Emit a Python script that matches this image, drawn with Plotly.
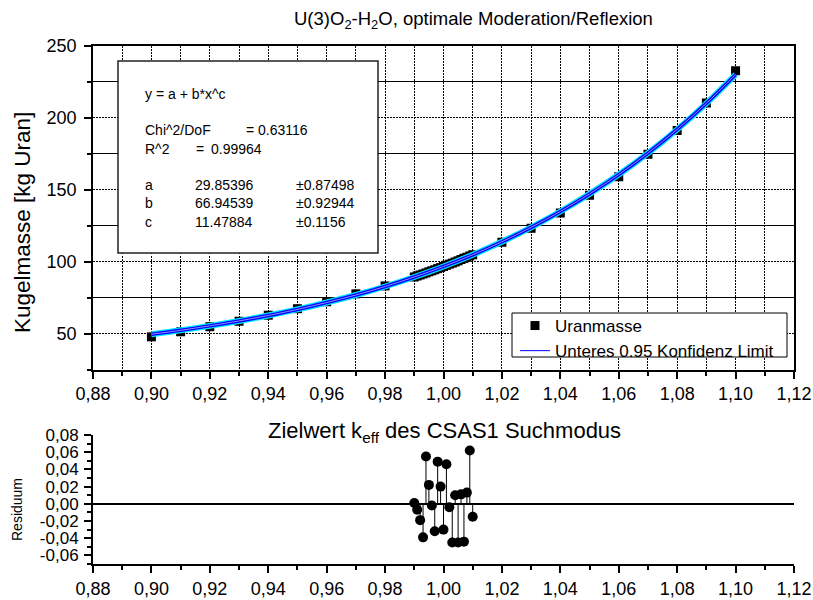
import plotly.graph_objects as go

# Target k_eff values and the corresponding sphere masses (kg U)
K_EFF = [0.90, 0.91, 0.92, 0.93, 0.94, 0.95, 0.96, 0.97, 0.98,
         0.990, 0.991, 0.992, 0.993, 0.994, 0.995, 0.996, 0.997, 0.998, 0.999,
         1.000, 1.001, 1.002, 1.003, 1.004, 1.005, 1.006, 1.007, 1.008, 1.009, 1.010,
         1.02, 1.03, 1.04, 1.05, 1.06, 1.07, 1.08, 1.09, 1.10]
MASS = [48.0, 51.5, 55.0, 58.8, 63.0, 67.5, 72.3, 77.8, 83.3,
        89.5, 90.2, 90.9, 91.6, 92.3, 93.1, 93.8, 94.5, 95.3, 96.0,
        96.8, 97.6, 98.4, 99.1, 99.9, 100.7, 101.6, 102.4, 103.2, 104.1, 104.9,
        113.6, 123.2, 133.8, 146.2, 159.0, 174.6, 191.0, 210.2, 232.5]

# Fitted curve y = a + b*x^c, sampled at the coarse k_eff grid
FIT_K = [0.90, 0.91, 0.92, 0.93, 0.94, 0.95, 0.96, 0.97, 0.98, 0.99, 1.00,
         1.01, 1.02, 1.03, 1.04, 1.05, 1.06, 1.07, 1.08, 1.09, 1.10]
FIT_MASS = [49.8, 52.5, 55.6, 59.0, 62.8, 67.0, 71.8, 77.0, 82.9, 89.5, 96.8,
            104.9, 113.9, 123.9, 134.9, 147.1, 160.5, 175.4, 191.8, 209.9, 229.8]

# Residuals of the dense search-mode block around k_eff = 1
RES_K = [0.990, 0.991, 0.992, 0.993, 0.994, 0.995, 0.996, 0.997, 0.998, 0.999,
         1.000, 1.001, 1.002, 1.003, 1.004, 1.005, 1.006, 1.007, 1.008, 1.009, 1.010]
RESIDUAL = [0.001, -0.007, -0.019, -0.039, 0.055, 0.022, -0.002, -0.032, 0.049, 0.020,
            -0.030, 0.046, -0.004, -0.045, 0.010, -0.045, 0.011, -0.044, 0.013, 0.062, -0.015]

X_TICKS = [0.88, 0.90, 0.92, 0.94, 0.96, 0.98, 1.00, 1.02, 1.04, 1.06, 1.08, 1.10, 1.12]
RES_TICKS = [-0.06, -0.04, -0.02, 0.00, 0.02, 0.04, 0.06, 0.08]

FIT_PARAMS = [("a", "29.85396", "\u00b10.87498"),
              ("b", "66.94539", "\u00b10.92944"),
              ("c", "11.47884", "\u00b10.1156")]

FONT = "Liberation Sans, Arial, sans-serif"
W, H = 813, 600


def px(x):
    return x / W


def py(y):
    return 1 - y / H


def fmt(v):
    return f"{v:.2f}".replace(".", ",")


fig = go.Figure()

# data points (drawn first so the fit band sits on top)
fig.add_trace(go.Scatter(
    x=K_EFF, y=MASS, mode="markers", name="Uranmasse",
    marker=dict(symbol="square", size=9, color="black"),
    xaxis="x", yaxis="y", legendrank=1))

# fit band: cyan outer, blue body, light centre line
fig.add_trace(go.Scatter(x=FIT_K, y=FIT_MASS, mode="lines", line=dict(color="#00e5ff", width=6, shape="spline"),
                         showlegend=False, hoverinfo="skip"))
fig.add_trace(go.Scatter(x=FIT_K, y=FIT_MASS, mode="lines", line=dict(color="#0000ff", width=3.5, shape="spline"),
                         showlegend=False, hoverinfo="skip"))
fig.add_trace(go.Scatter(x=FIT_K, y=FIT_MASS, mode="lines", line=dict(color="#8f8fff", width=1, shape="spline"),
                         showlegend=False, hoverinfo="skip"))
# legend entry for the confidence limit line
fig.add_trace(go.Scatter(x=[None], y=[None], mode="lines", name="Unteres 0.95 Konfidenz Limit",
                         line=dict(color="#0000ff", width=1), legendrank=2))

# residuals with drop lines to zero
fig.add_trace(go.Scatter(
    x=RES_K, y=RESIDUAL, mode="markers", showlegend=False,
    marker=dict(symbol="circle", size=10, color="black"),
    error_y=dict(type="data", symmetric=False,
                 array=[max(-r, 0) for r in RESIDUAL],
                 arrayminus=[max(r, 0) for r in RESIDUAL],
                 color="black", thickness=1, width=0),
    xaxis="x2", yaxis="y2"))

x_dom = [px(93), px(794)]
tickfont = dict(family=FONT, size=18, color="black")
DOTS = "2px,1px"

fig.update_layout(
    template="none",
    width=W, height=H,
    margin=dict(l=0, r=0, t=0, b=0, pad=0, autoexpand=False),
    paper_bgcolor="white", plot_bgcolor="white",
    font=dict(family=FONT, color="black"),
    showlegend=True,
    legend=dict(x=px(515), y=py(308), xanchor="left", yanchor="top",
                bgcolor="rgba(0,0,0,0)", borderwidth=0,
                font=dict(family=FONT, size=17, color="black"),
                tracegroupgap=0, itemwidth=30),
    xaxis=dict(domain=x_dom, anchor="y", range=[0.88, 1.12], automargin=False,
               tickmode="array", tickvals=X_TICKS, ticktext=[fmt(v) for v in X_TICKS],
               tickfont=tickfont, ticks="outside", ticklen=7, tickwidth=1.5, tickcolor="black",
               showline=True, mirror=True, linecolor="black", linewidth=1.5,
               showgrid=True, gridcolor="black", gridwidth=1, griddash=DOTS,
               minor=dict(dtick=0.01, tick0=0.88, ticks="outside", ticklen=4, tickwidth=1.5, tickcolor="black",
                          showgrid=True, gridcolor="black", gridwidth=1, griddash=DOTS),
               zeroline=False),
    yaxis=dict(domain=[py(370), py(45.5)], anchor="x", range=[25, 250], automargin=False,
               tick0=0, dtick=50, tickfont=tickfont, ticklabelstandoff=4,
               ticks="outside", ticklen=7, tickwidth=1.5, tickcolor="black",
               showline=True, mirror=True, linecolor="black", linewidth=1.5,
               showgrid=True, gridcolor="black", gridwidth=1, griddash=DOTS,
               minor=dict(dtick=25, tick0=0, ticks="outside", ticklen=4, tickwidth=1.5, tickcolor="black",
                          showgrid=True, gridcolor="black", gridwidth=1, griddash="solid"),
               zeroline=False),
    xaxis2=dict(domain=x_dom, anchor="y2", range=[0.88, 1.12], automargin=False,
                tickmode="array", tickvals=X_TICKS, ticktext=[fmt(v) for v in X_TICKS],
                tickfont=tickfont, ticks="outside", ticklen=7, tickwidth=1.5, tickcolor="black",
                showline=True, mirror=False, linecolor="black", linewidth=2,
                showgrid=False, zeroline=False,
                minor=dict(dtick=0.01, tick0=0.88, ticks="outside", ticklen=4, tickwidth=1.5, tickcolor="black")),
    yaxis2=dict(domain=[py(564), py(435)], anchor="x2", range=[-0.07, 0.08], automargin=False,
                tickmode="array", tickvals=RES_TICKS, ticktext=[fmt(v) for v in RES_TICKS],
                tickfont=dict(family=FONT, size=17, color="black"), ticklabelstandoff=2,
                ticks="outside", ticklen=7, tickwidth=1.5, tickcolor="black",
                showline=True, mirror=False, linecolor="black", linewidth=2,
                showgrid=False,
                zeroline=True, zerolinecolor="black", zerolinewidth=2,
                minor=dict(dtick=0.01, tick0=0, ticks="outside", ticklen=4, tickwidth=1.5, tickcolor="black")),
)

annotations = [
    dict(text="U(3)O<sub>2</sub>-H<sub>2</sub>O, optimale Moderation/Reflexion",
         x=px(473), y=py(20), font=dict(size=18.5)),
    dict(text="Zielwert k<sub>eff</sub> des CSAS1 Suchmodus",
         x=px(444), y=py(432), font=dict(size=22)),
    dict(text="Kugelmasse [kg Uran]", x=px(23), y=py(223), textangle=-90, font=dict(size=22.5)),
    dict(text="Residuum", x=px(17), y=py(510), textangle=-90, font=dict(size=14)),
]
for a in annotations:
    a.update(xref="paper", yref="paper", showarrow=False, xanchor="center", yanchor="middle")
    a["font"].update(family=FONT, color="black")

# fit results box
box_lines = [("y = a + b*x^c", 143, 94),
             ("Chi^2/DoF", 143, 130), ("= 0.63116", 244, 130),
             ("R^2", 143, 149), ("=", 194, 149), ("0.99964", 209, 149)]
row_y = [185, 203, 222]
for (name, val, err), yy in zip(FIT_PARAMS, row_y):
    box_lines += [(name, 143, yy), (val, 193, yy), (err, 294, yy)]
for t, xx, yy in box_lines:
    annotations.append(dict(text=t, x=px(xx), y=py(yy), xref="paper", yref="paper",
                            showarrow=False, xanchor="left", yanchor="middle",
                            font=dict(family=FONT, size=14, color="black")))

fig.update_layout(annotations=annotations)

# fit results frame and legend frame, opaque over the grid
fig.add_shape(type="rect", xref="paper", yref="paper",
              x0=px(118), x1=px(378), y0=py(253), y1=py(61),
              line=dict(color="#222222", width=1.5), fillcolor="white", layer="above")
fig.add_shape(type="rect", xref="paper", yref="paper",
              x0=px(512), x1=px(787), y0=py(357), y1=py(313),
              line=dict(color="black", width=1), fillcolor="white", layer="above")

fig.write_html("out.html")
